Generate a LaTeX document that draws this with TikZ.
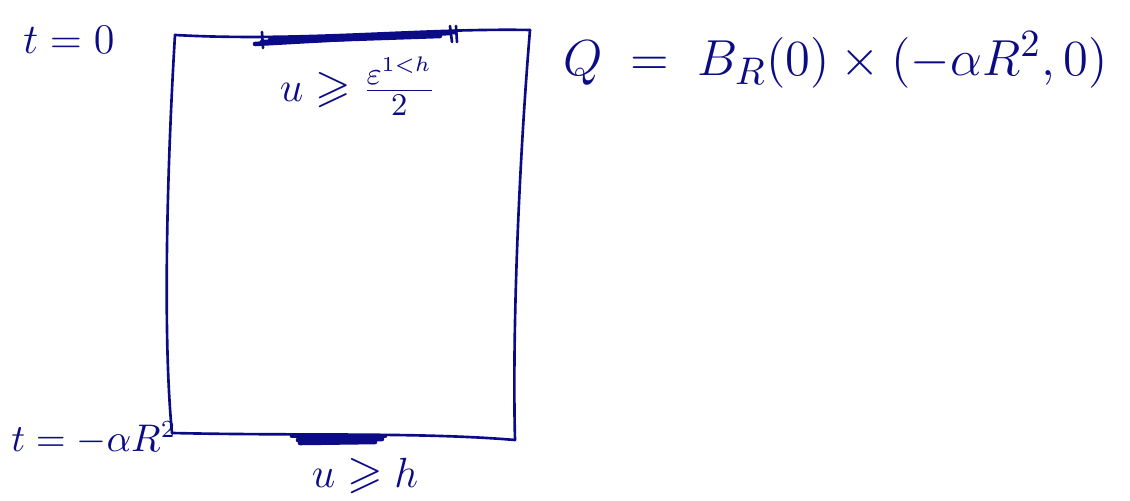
\documentclass[tikz,border=0pt]{standalone}
\usepackage{amssymb}
\usetikzlibrary{calc}
\definecolor{inkcolor}{HTML}{0B0B85}

\begin{document}
\begin{tikzpicture}[
    x=0.01cm, y=-0.01cm,
    line width=0.75pt,
    line join=round,
    line cap=round,
    ink/.style={inkcolor},
    heavy/.style={inkcolor, line width=1.3pt},
    label/.style={inkcolor, inner sep=0pt, font=\fontsize{12}{14}\selectfont}
]
    \useasboundingbox (0,0) rectangle (1130,501);

    % Corners of the cylinder Q
    \coordinate (tl) at (175,35);
    \coordinate (tr) at (530,30);
    \coordinate (br) at (515,440);
    \coordinate (bl) at (172,433);

    % Box: hand drawn sides
    \draw[ink] (tl) .. controls (300,42) and (420,28) .. (tr);
    \draw[ink] (tl) .. controls (168,150) and (162,330) .. (bl);
    \draw[ink] (tr) .. controls (520,150) and (512,320) .. (br);
    \draw[ink] (bl) .. controls (300,436) and (420,432) .. (br);

    % Top: marked part of t = 0
    \draw[heavy] (255,44) -- (450,33);
    \draw[heavy] (270,40) -- (455,32);
    \draw[heavy] (262,42) -- (440,36);
    \draw[ink] (262,32) -- (263,48);
    \draw[ink] (450,26) -- (452,42);
    \draw[ink] (456,26) -- (457,42);

    % Bottom: marked part of t = -alpha R^2
    \draw[heavy] (292,436) -- (385,436);
    \draw[heavy] (298,440) -- (382,439);
    \draw[heavy] (300,443) -- (375,442);

    % Labels
    \node[label, anchor=west] (tzero) at (22,40) {$t=0$};
    \node[label, anchor=west, font=\fontsize{10.5}{13}\selectfont] (tbot) at (10,438) {$t=-\alpha R^2$};
    \node[label, font=\fontsize{13}{15}\selectfont] (utop) at (358,86) {$u\geqslant\frac{\varepsilon^{1<h}}{2}$};
    \node[label, font=\fontsize{13}{15}\selectfont] (ubot) at (365,476) {$u\geqslant h$};
    \node[label, anchor=west, font=\fontsize{15}{18}\selectfont] (qdef) at (562,60)
        {$Q \;=\; B_R(0)\times\bigl(-\alpha R^2,0\bigr)$};

\end{tikzpicture}
\end{document}
